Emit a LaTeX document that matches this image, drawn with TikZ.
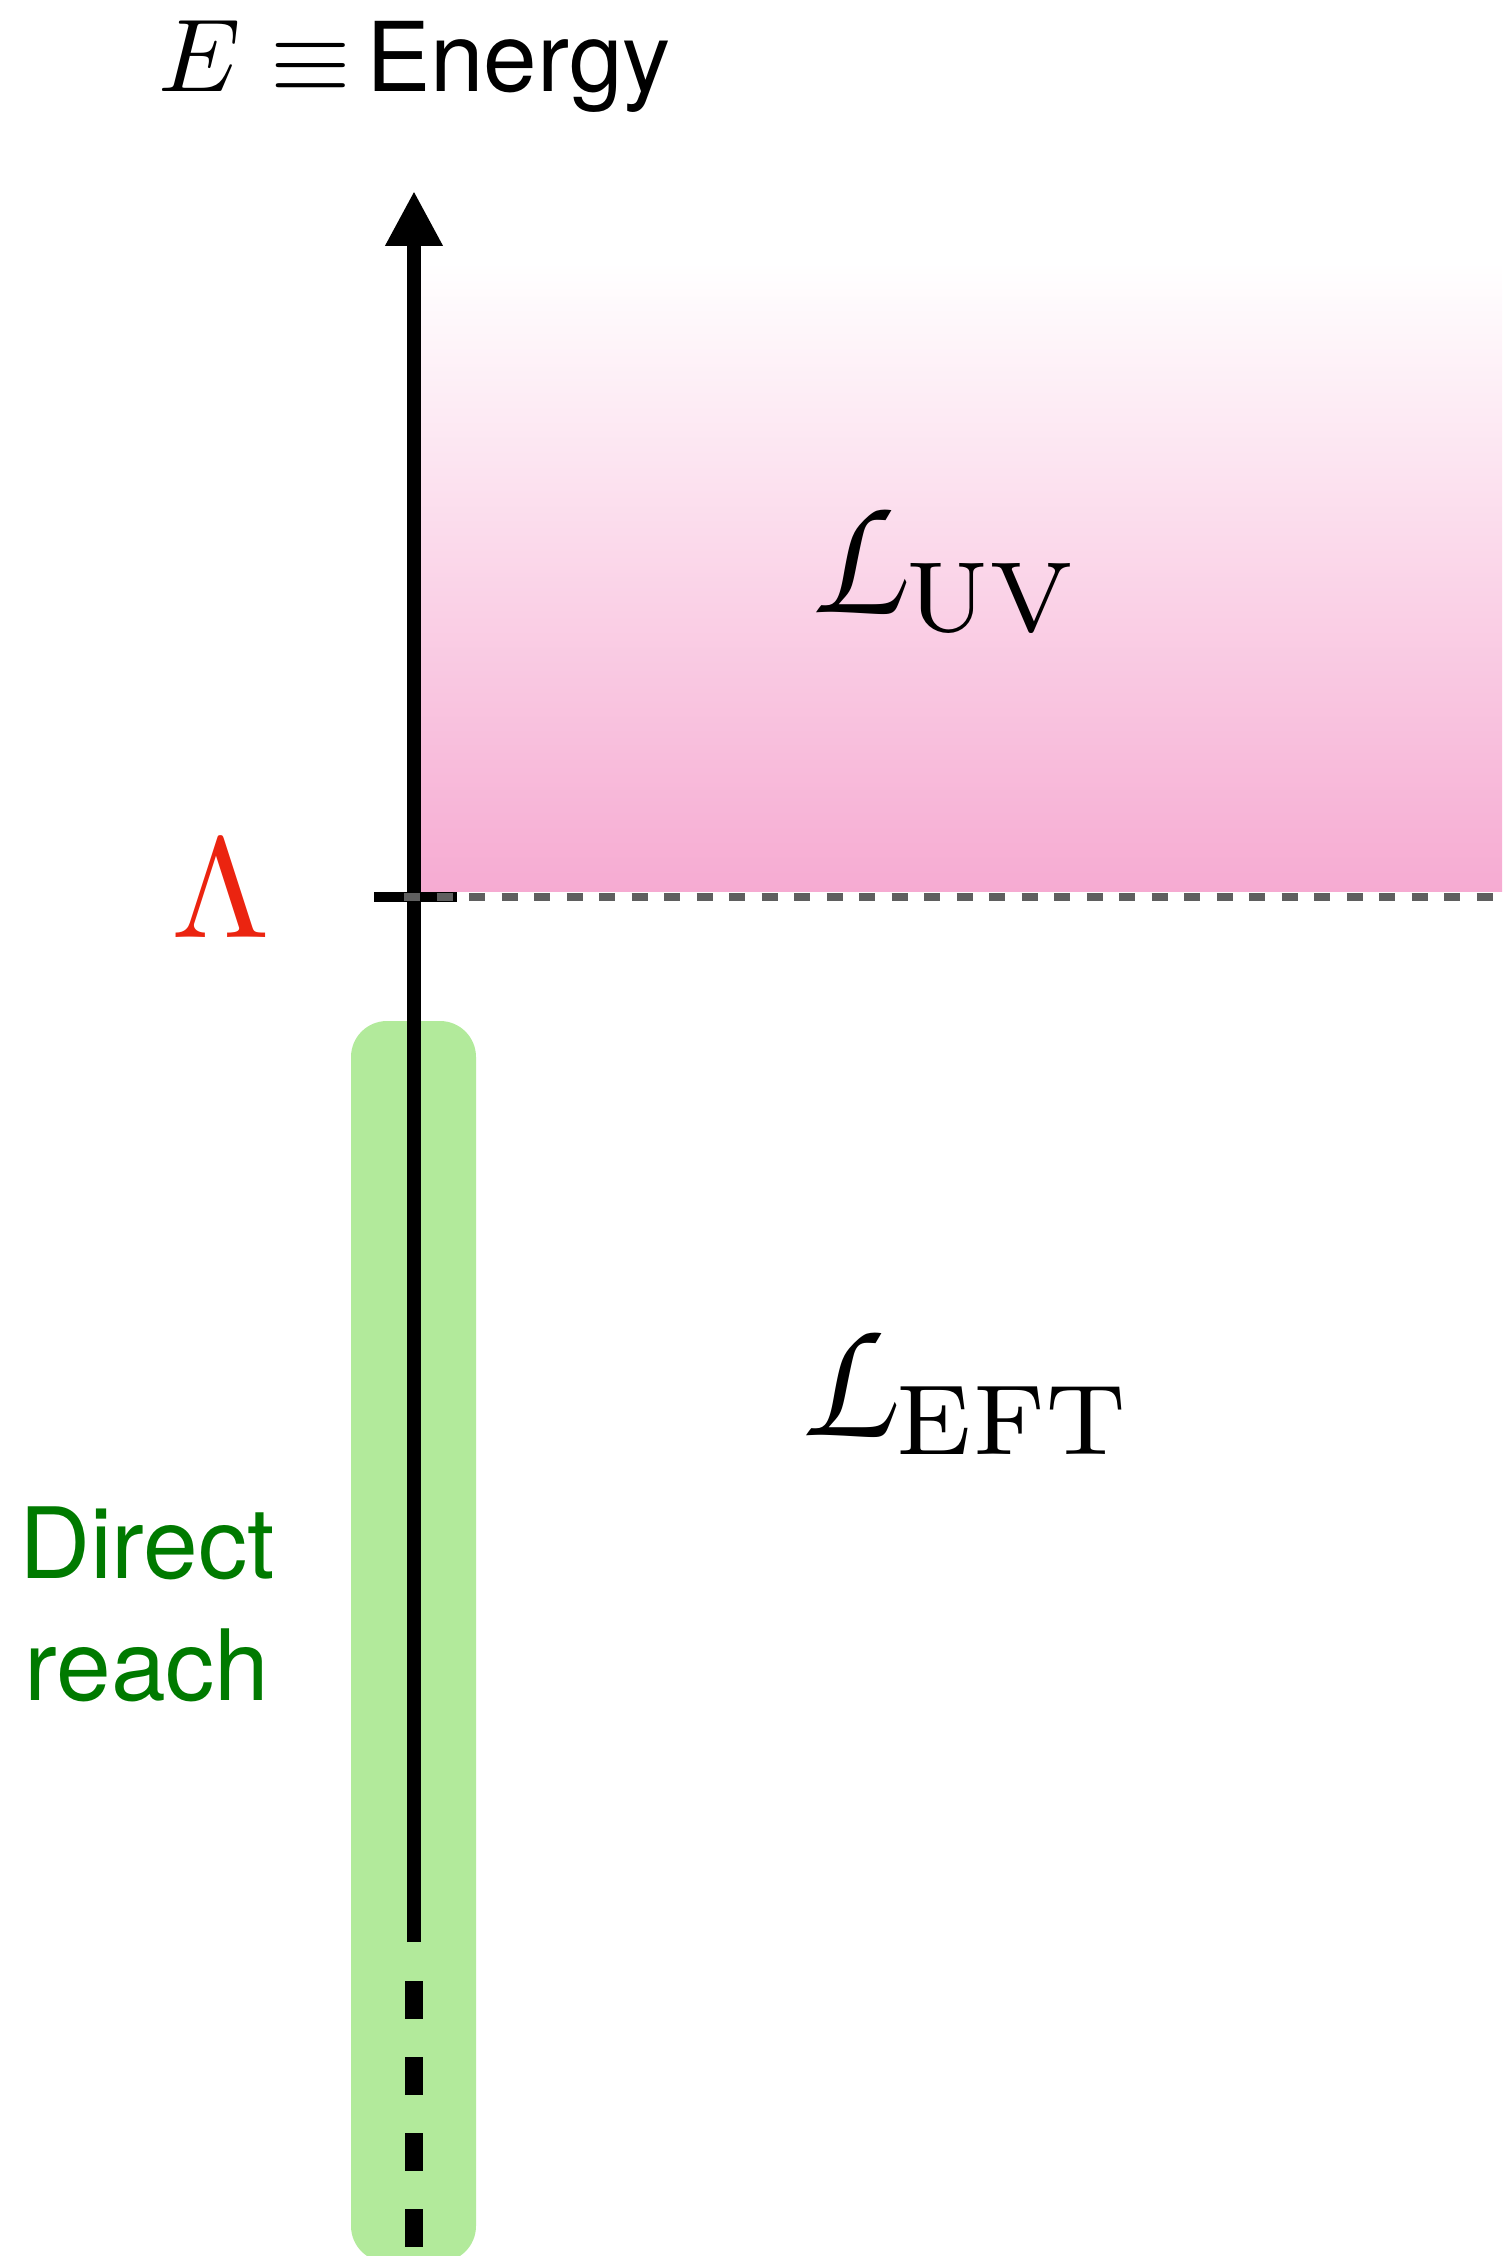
\documentclass[tikz,border=0pt]{standalone}
\usepackage{amsmath}
\usepackage{graphicx}
\usepackage{fontspec}
\newfontfamily\helv{TeX Gyre Heros}
\DeclareMathAlphabet{\mathpzc}{OT1}{pzc}{m}{it}
\usetikzlibrary{arrows.meta,positioning}
\definecolor{uvPink}{HTML}{F6ABD2}
\definecolor{reachGreen}{HTML}{B2EA9B}
\definecolor{reachText}{HTML}{007A00}
\definecolor{cutRed}{HTML}{EB2410}
\definecolor{cutGray}{HTML}{5F5F5F}
\newcommand{\bigmath}[2]{\scalebox{#1}{$#2$}}
% script L with a roman subscript, drawn large
\newcommand{\lagrangian}[1]{\scalebox{4.3}[5.1]{$\mathpzc{L}$}\kern-0.5mm\raisebox{-1.85mm}{\scalebox{4.05}{$\scriptstyle\mathrm{#1}$}}}
\tikzset{
  axisline/.style={line width=1.34mm, draw=black, -{Triangle[length=5.5mm,width=5.4mm]}},
  axisdash/.style={line width=1.86mm, draw=black, dash pattern=on 3.75mm off 3.85mm},
  cutline/.style={line width=0.75mm, draw=cutGray, dash pattern=on 1.6mm off 1.65mm},
  cuttick/.style={line width=1.0mm, draw=black},
  uvband/.style={top color=white, bottom color=uvPink, draw=none},
  reachband/.style={fill=reachGreen, draw=none, rounded corners=3.6mm},
  lagr/.style={inner sep=0pt, anchor=base west},
  sanslabel/.style={inner sep=0pt, font=\helv\fontsize{28}{34.6}\selectfont}
}
\begin{document}
\begin{tikzpicture}[x=0.1mm,y=-0.1mm]
  \useasboundingbox (0,0) rectangle (1502,2256);
  % regions
  \fill[uvband] (421,262) rectangle (1502,891);
  \fill[reachband] (351,1021) rectangle (476,2262);
  % energy axis
  \coordinate (axtop) at (414,191);
  \coordinate (axmid) at (414,1942);
  \coordinate (axdash) at (414,1981);
  \coordinate (axbot) at (414,2256);
  \draw[axisline] (axmid) -- (axtop);
  \draw[axisdash] (axdash) -- (axbot);
  % cutoff
  \coordinate (tickl) at (374,897);
  \coordinate (tickr) at (457,897);
  \coordinate (cutl) at (404,897);
  \coordinate (cutr) at (1502,897);
  \draw[cuttick] (tickl) -- (tickr);
  \draw[cutline] (cutl) -- (cutr);
  % labels
  \node[inner sep=0pt, anchor=base west] (titleE) at (158,92) {\bigmath{2.95}{E\equiv}};
  \node[inner sep=0pt, base right=1.4mm of titleE, font=\helv\fontsize{27.4}{32}\selectfont] (energy) {Energy};
  \node[inner sep=0pt, anchor=base, text=cutRed] (lambda) at (221,937) {\bigmath{4.05}{\Lambda}};
  \node[lagr] (luv) at (811,613) {\lagrangian{UV}};
  \node[lagr] (left) at (801,1436) {\lagrangian{EFT}};
  \node[sanslabel, text=reachText, align=center, anchor=base] (reach) at (147,1700) {Direct\\reach};
\end{tikzpicture}
\end{document}
